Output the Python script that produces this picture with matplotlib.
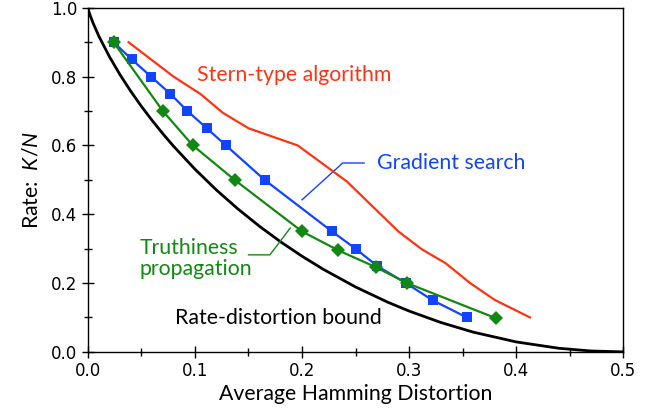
import numpy as np
import matplotlib.pyplot as plt
from matplotlib.ticker import MultipleLocator

# 数据：从图上读取
bound_d = [0.0, 0.001, 0.0025, 0.005, 0.01, 0.02, 0.03, 0.04, 0.05, 0.06, 0.07, 0.08,
           0.10, 0.12, 0.14, 0.16, 0.18, 0.20, 0.22, 0.25, 0.28, 0.30, 0.33, 0.36,
           0.40, 0.44, 0.47, 0.50]
bound_r = [1.0, 0.9886, 0.9748, 0.9546, 0.9192, 0.8586, 0.8056, 0.7577, 0.7136, 0.6726,
           0.6341, 0.5978, 0.5310, 0.4706, 0.4158, 0.3657, 0.3199, 0.2781, 0.2398,
           0.1887, 0.1445, 0.1187, 0.0851, 0.0573, 0.0290, 0.0104, 0.0026, 0.0]

stern_d = [0.038, 0.080, 0.105, 0.126, 0.150, 0.196, 0.242, 0.290, 0.312, 0.334,
           0.357, 0.380, 0.413]
stern_r = [0.90, 0.80, 0.75, 0.695, 0.65, 0.60, 0.495, 0.35, 0.298, 0.258, 0.20, 0.151, 0.10]

grad_d = [0.024, 0.041, 0.059, 0.077, 0.093, 0.111, 0.129, 0.165, 0.228, 0.250,
          0.270, 0.297, 0.322, 0.354]
grad_r = [0.90, 0.85, 0.80, 0.75, 0.70, 0.65, 0.60, 0.50, 0.35, 0.30, 0.25, 0.20, 0.15, 0.10]

truth_d = [0.024, 0.070, 0.098, 0.137, 0.200, 0.234, 0.269, 0.298, 0.381]
truth_r = [0.90, 0.70, 0.60, 0.50, 0.35, 0.295, 0.246, 0.20, 0.098]

RED = '#ff3311'
BLUE = '#1144ff'
GREEN = '#118811'

plt.rcParams['mathtext.fontset'] = 'custom'
plt.rcParams['mathtext.it'] = 'Lato:italic'
plt.rcParams['mathtext.rm'] = 'Lato'
label_font = 'Lato'
FS = 15.3

fig = plt.figure(figsize=(6.56, 4.13), dpi=100)
ax = fig.add_axes([0.134, 0.148, 0.816, 0.833])

ax.plot(bound_d, bound_r, color='black', lw=2.0, zorder=2)
ax.plot(stern_d, stern_r, color=RED, lw=1.6, zorder=3)
ax.plot(grad_d, grad_r, color=BLUE, lw=1.6, marker='s', markersize=7.5,
        markeredgewidth=0, zorder=4)
ax.plot(truth_d, truth_r, color=GREEN, lw=1.6, marker='D', markersize=7.5,
        markeredgewidth=0, zorder=5)

# 注释文字
ax.text(0.102, 0.805, 'Stern-type algorithm', color=RED, fontsize=FS,
        family=label_font, va='center', ha='left')
ax.text(0.270, 0.55, 'Gradient search', color=BLUE, fontsize=FS,
        family=label_font, va='center', ha='left')
ax.plot([0.200, 0.238, 0.258], [0.442, 0.549, 0.549], color=BLUE, lw=1.0)
ax.text(0.0486, 0.272, 'Truthiness\npropagation', color=GREEN, fontsize=FS,
        family=label_font, va='center', ha='left', linespacing=1.1)
ax.plot([0.150, 0.170, 0.189], [0.282, 0.282, 0.360], color=GREEN, lw=1.0)
ax.text(0.081, 0.099, 'Rate-distortion bound', color='black', fontsize=FS,
        family=label_font, va='center', ha='left')

ax.set_xlim(0, 0.5)
ax.set_ylim(0, 1.0)
ax.xaxis.set_major_locator(MultipleLocator(0.1))
ax.xaxis.set_minor_locator(MultipleLocator(0.05))
ax.yaxis.set_major_locator(MultipleLocator(0.2))
ax.yaxis.set_minor_locator(MultipleLocator(0.1))
ax.xaxis.set_major_formatter(lambda v, p: f'{v:.1f}')
ax.yaxis.set_major_formatter(lambda v, p: f'{v:.1f}')
ax.tick_params(which='major', direction='inout', length=8, width=1, labelsize=12)
ax.tick_params(which='minor', direction='inout', length=6, width=1)
for lab in ax.get_xticklabels() + ax.get_yticklabels():
    lab.set_family('DejaVu Sans')
for s in ax.spines.values():
    s.set_linewidth(1.0)

ax.set_xlabel('Average Hamming Distortion', fontsize=FS, family=label_font, labelpad=3)
ax.set_ylabel('Rate:  $K/N$', fontsize=FS, family=label_font, labelpad=7)

plt.savefig('out.png', dpi=100)
